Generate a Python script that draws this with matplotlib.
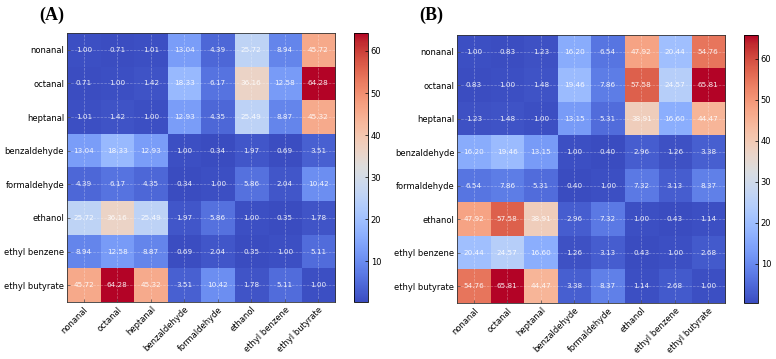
import matplotlib
matplotlib.use("Agg")
import matplotlib.pyplot as plt
import numpy as np

compounds = ["nonanal", "octanal", "heptanal", "benzaldehyde",
             "formaldehyde", "ethanol", "ethyl benzene", "ethyl butyrate"]

matrix_a = np.array([
    [1.00, 0.71, 1.01, 13.04, 4.39, 25.72, 8.94, 45.72],
    [0.71, 1.00, 1.42, 18.33, 6.17, 36.16, 12.58, 64.28],
    [1.01, 1.42, 1.00, 12.93, 4.35, 25.49, 8.87, 45.32],
    [13.04, 18.33, 12.93, 1.00, 0.34, 1.97, 0.69, 3.51],
    [4.39, 6.17, 4.35, 0.34, 1.00, 5.86, 2.04, 10.42],
    [25.72, 36.16, 25.49, 1.97, 5.86, 1.00, 0.35, 1.78],
    [8.94, 12.58, 8.87, 0.69, 2.04, 0.35, 1.00, 5.11],
    [45.72, 64.28, 45.32, 3.51, 10.42, 1.78, 5.11, 1.00],
])

matrix_b = np.array([
    [1.00, 0.83, 1.23, 16.20, 6.54, 47.92, 20.44, 54.76],
    [0.83, 1.00, 1.48, 19.46, 7.86, 57.58, 24.57, 65.81],
    [1.23, 1.48, 1.00, 13.15, 5.31, 38.91, 16.60, 44.47],
    [16.20, 19.46, 13.15, 1.00, 0.40, 2.96, 1.26, 3.38],
    [6.54, 7.86, 5.31, 0.40, 1.00, 7.32, 3.13, 8.37],
    [47.92, 57.58, 38.91, 2.96, 7.32, 1.00, 0.43, 1.14],
    [20.44, 24.57, 16.60, 1.26, 3.13, 0.43, 1.00, 2.68],
    [54.76, 65.81, 44.47, 3.38, 8.37, 1.14, 2.68, 1.00],
])

panels = [
    ("(A)", matrix_a, [0.0863, 0.1588, 0.3454, 0.7493], [0.456, 0.1588, 0.018, 0.7493], 0.067),
    ("(B)", matrix_b, [0.589, 0.156, 0.3454, 0.7465], [0.9588, 0.156, 0.018, 0.7465], 0.556),
]

fig = plt.figure(figsize=(7.76, 3.59), dpi=100)

for label, M, ax_rect, cb_rect, lx in panels:
    ax = fig.add_axes(ax_rect)
    im = ax.imshow(M, cmap="coolwarm", aspect="auto")
    n = len(compounds)
    for i in range(n):
        for j in range(n):
            ax.text(j, i, f"{M[i, j]:.2f}", ha="center", va="center",
                    color="white", fontsize=5.2, alpha=0.9)
    ax.set_xticks(range(n))
    ax.set_yticks(range(n))
    ax.set_xticklabels(compounds, rotation=45, ha="right", rotation_mode="anchor",
                       fontsize=6)
    ax.set_yticklabels(compounds, fontsize=6)
    ax.tick_params(direction="in", length=2.5, width=0.5, color="#444444", pad=2)
    ax.grid(True, linestyle="--", color="white", alpha=0.35, linewidth=0.5)
    for s in ax.spines.values():
        s.set_linewidth(0.6)
        s.set_color("#333333")

    cax = fig.add_axes(cb_rect)
    cb = fig.colorbar(im, cax=cax)
    cb.set_ticks([10, 20, 30, 40, 50, 60])
    cb.ax.tick_params(labelsize=6, direction="in", length=2.5, width=0.5, pad=2)
    cb.outline.set_linewidth(0.6)

    fig.text(lx, 0.958, label, ha="center", va="center", fontsize=13,
             fontweight="bold", family=["Liberation Serif", "DejaVu Serif"])

fig.savefig("out.png", dpi=100)
